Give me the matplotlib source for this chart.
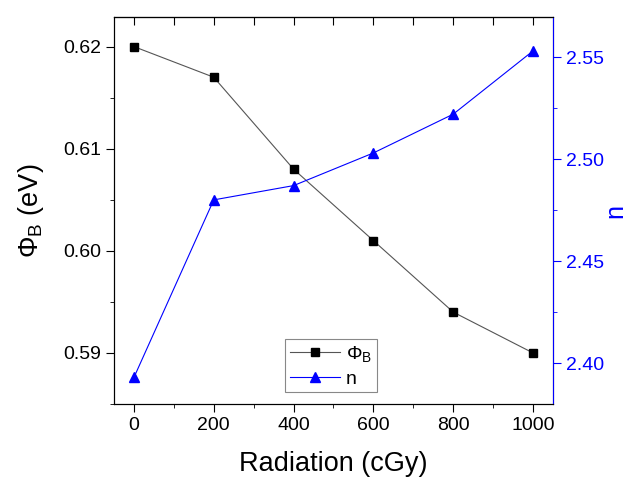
import matplotlib
matplotlib.use('Agg')
import matplotlib.pyplot as plt
from matplotlib.ticker import MultipleLocator

plt.rcParams['font.family'] = ['Liberation Sans', 'DejaVu Sans']
plt.rcParams['mathtext.fontset'] = 'custom'
plt.rcParams['mathtext.rm'] = 'Liberation Sans'
plt.rcParams['mathtext.it'] = 'Liberation Sans'

radiation = [0, 200, 400, 600, 800, 1000]
phi_b = [0.620, 0.617, 0.608, 0.601, 0.594, 0.590]
n_vals = [2.393, 2.480, 2.487, 2.503, 2.522, 2.553]

fig = plt.figure(figsize=(6.29, 4.8), dpi=100)
ax = fig.add_axes([0.1812, 0.1583, 0.698, 0.8063])
ax2 = ax.twinx()

l1, = ax.plot(radiation, phi_b, color='#555555', lw=0.8, marker='s', ms=5.5,
              mfc='black', mec='black', label=r'$\Phi_\mathrm{B}$')
l2, = ax2.plot(radiation, n_vals, color='blue', lw=0.8, marker='^', ms=6.5,
               mfc='blue', mec='blue', label='n')

ax.set_xlim(-50, 1050)
ax.set_ylim(0.585, 0.6229)
ax2.set_ylim(2.38, 2.5696)

ax.xaxis.set_major_locator(MultipleLocator(200))
ax.xaxis.set_minor_locator(MultipleLocator(100))
ax.yaxis.set_major_locator(MultipleLocator(0.01))
ax.yaxis.set_minor_locator(MultipleLocator(0.005))
ax2.yaxis.set_major_locator(MultipleLocator(0.05))
ax2.yaxis.set_minor_locator(MultipleLocator(0.025))
ax.yaxis.set_major_formatter(plt.FormatStrFormatter('%.2f'))
ax2.yaxis.set_major_formatter(plt.FormatStrFormatter('%.2f'))

ax.tick_params(axis='both', which='major', direction='out', length=6, labelsize=14)
ax.tick_params(axis='both', which='minor', direction='out', length=3)
ax2.tick_params(axis='y', which='major', direction='out', length=6, labelsize=14,
                colors='blue')
ax2.tick_params(axis='y', which='minor', direction='out', length=3, colors='blue')
ax2.spines['right'].set_color('blue')

# top ticks point inwards
top = ax.secondary_xaxis('top')
top.xaxis.set_major_locator(MultipleLocator(100))
top.tick_params(axis='x', direction='in', length=6, labeltop=False)

ax.set_xlabel('Radiation (cGy)', fontsize=19.5, labelpad=12)
ax.set_ylabel(r'$\Phi_\mathrm{B}$ (eV)', fontsize=19.5, labelpad=12)
ax2.set_ylabel('n', fontsize=18, color='blue')
ax2.yaxis.label.set_va('center')
ax2.yaxis.set_label_coords(1.142, 0.5)

leg = ax.legend([l1, l2], [r'$\Phi_\mathrm{B}$', 'n'], loc='lower center',
                bbox_to_anchor=(0.494, 0.03), fontsize=14, fancybox=False,
                edgecolor='#888888', framealpha=1, handlelength=2.6,
                handletextpad=0.3, borderpad=0.25, borderaxespad=0,
                labelspacing=0.3)
leg.get_frame().set_linewidth(0.8)

fig.savefig('out.png', dpi=100)
